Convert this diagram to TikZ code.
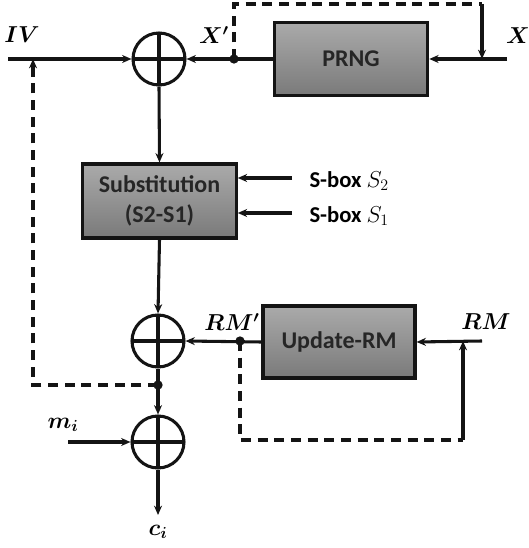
\documentclass[tikz,border=0pt]{standalone}
\usepackage{fontspec}
\setmainfont{Carlito}
\usetikzlibrary{arrows.meta}
\definecolor{boxtop}{RGB}{170,170,170}
\definecolor{boxbot}{RGB}{122,122,122}
\definecolor{inkc}{RGB}{20,20,20}
\begin{document}
\begin{tikzpicture}[x=0.75pt,y=-0.75pt, line width=2.3pt, draw=inkc,
  arr/.style={-{Stealth[length=7pt,width=6pt]}},
  dsh/.style={dash pattern=on 7.5pt off 5pt},
  xorn/.style={circle,draw,minimum size=39pt,inner sep=0pt,
    path picture={\draw (path picture bounding box.north) -- (path picture bounding box.south)
      (path picture bounding box.west) -- (path picture bounding box.east);}},
  blk/.style={draw=inkc, line width=2.4pt, top color=boxtop, bottom color=boxbot,
    font=\fontsize{18}{21}\selectfont\bfseries, align=center, inner sep=0pt, text=black!85},
  lab/.style={font=\fontsize{16.5}{19}\selectfont\boldmath, inner sep=0pt},
  sbl/.style={font=\fontsize{17}{20}\selectfont\bfseries, inner sep=0pt, anchor=west},
  dotn/.style={circle, fill=inkc, inner sep=0pt, minimum size=7pt}
]
\useasboundingbox (0,0) rectangle (528,548);

% XOR nodes
\node[xorn] (x1) at (159,59) {};
\node[xorn] (x2) at (158,341) {};
\node[xorn] (x3) at (158,442) {};

% boxes
\node[blk, minimum width=115pt, minimum height=55pt] (prng) at (351,59) {PRNG};
\node[blk, minimum width=115pt, minimum height=55.5pt] (sub) at (159.5,201) {Substitution\\[1pt](S2-S1)};
\node[blk, minimum width=114pt, minimum height=54pt] (upd) at (339,342) {Update-RM};

% coordinates
\coordinate (ivs) at (8,59);
\coordinate (ivj) at (33,59);
\node[dotn] (xd) at (234,59) {};
\coordinate (c1) at (234,4);
\coordinate (c2) at (482,4);
\coordinate (xj) at (482,59);
\coordinate (xs) at (507,59);
\coordinate (s2s) at (292,178);
\coordinate (s1s) at (292,213);
\node[dotn] (rd) at (240,341) {};
\coordinate (rms) at (482,341);
\coordinate (rmj) at (463,341);
\coordinate (rmb) at (463,440);
\coordinate (rdb) at (240,440);
\node[dotn] (d1) at (158,385) {};
\coordinate (dl) at (33,385);
\coordinate (ms) at (68,442);
\coordinate (cs) at (158,515);

% labels
\node[lab] (lIV) at (22,35) {$IV$};
\node[lab] (lXp) at (214,35) {$X'$};
\node[lab] (lX) at (518,36) {$X$};
\node[sbl] (lS2) at (308,181) {S-box $S_2$};
\node[sbl] (lS1) at (308,216) {S-box $S_1$};
\node[lab] (lRMp) at (232,322) {$RM'$};
\node[lab] (lRM) at (486,322) {$RM$};
\node[lab] (lm) at (63,425) {$m_i$};
\node[lab] (lc) at (158,532) {$c_i$};

% connectors
\draw[arr] (ivs) -- (x1.west);
\draw[arr] (prng.west) -- (x1.east);
\draw[dsh] (xd.center) -- (c1) -- (c2);
\draw[arr] (c2) -- (xj);
\draw[arr] (xs) -- (prng.east);
\draw[arr] (x1.south) -- (sub.north);
\draw[arr] (s2s) -- (sub.east |- s2s);
\draw[arr] (s1s) -- (sub.east |- s1s);
\draw[arr] (sub.south) -- (x2.north);
\draw[arr] (upd.west) -- (x2.east);
\draw[arr] (rms) -- (upd.east);
\draw[dsh] (rd.center) -- (rdb) -- (rmb);
\draw[arr] (rmb) -- (rmj);
\draw[arr] (x2.south) -- (x3.north);
\draw[dsh] (d1.center) -- (dl) -- ([yshift=-6pt]ivj);
\draw[arr] ([yshift=-8pt]ivj) -- (ivj);
\draw[arr] (ms) -- (x3.west);
\draw[arr] (x3.south) -- (cs);
\end{tikzpicture}
\end{document}
